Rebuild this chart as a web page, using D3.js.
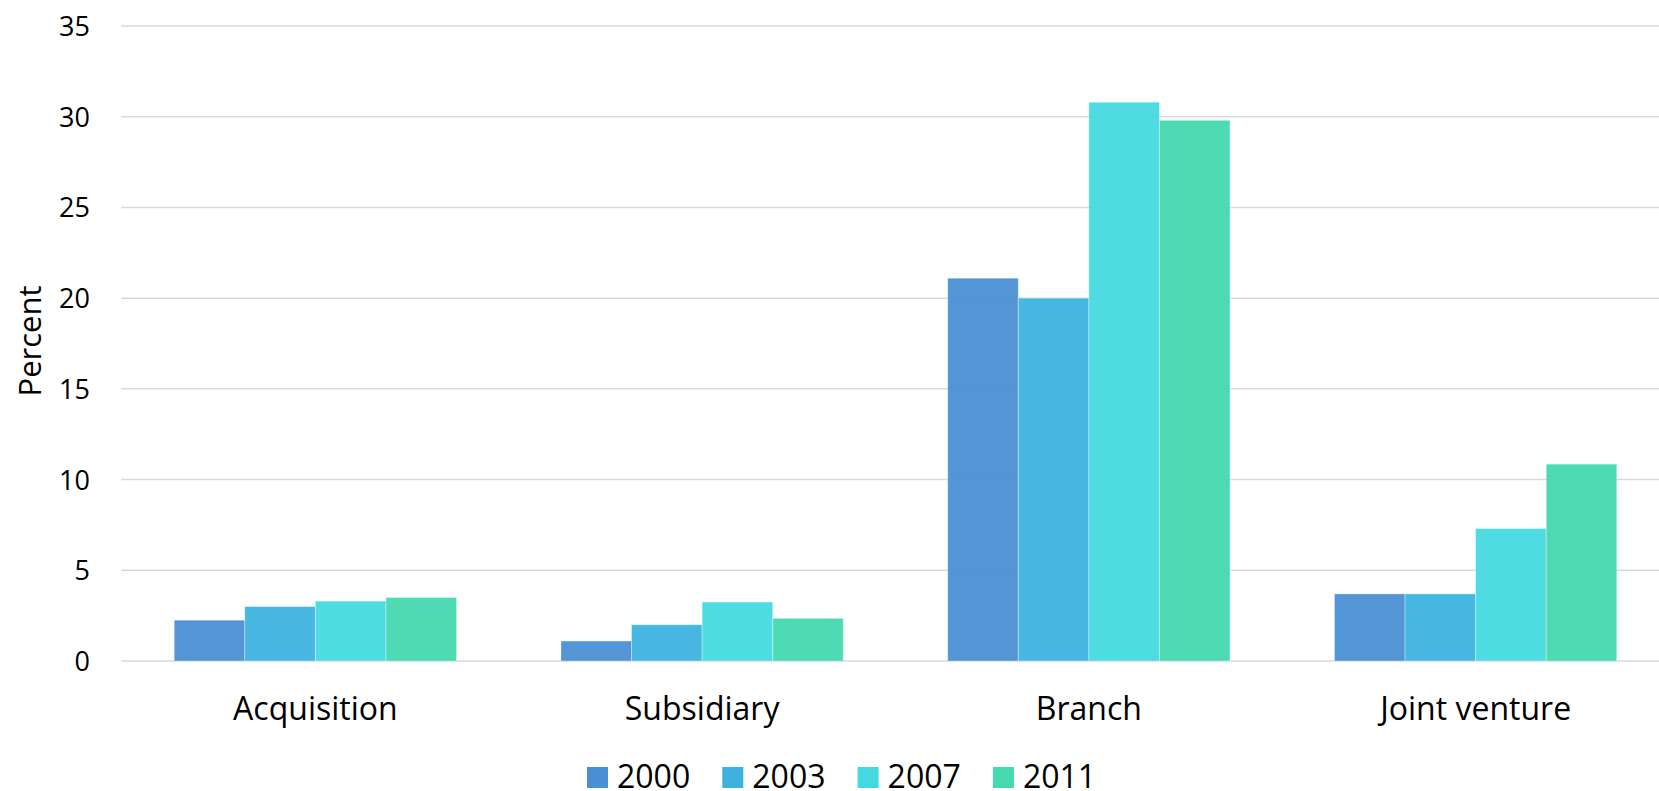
<!DOCTYPE html>
<html>
<head>
<meta charset="utf-8">
<style>
  body { margin: 0; background: #fff; }
  svg { display: block; font-family: "Open Sans", sans-serif; }
</style>
</head>
<body>
<svg id="chart" width="1659" height="791"></svg>
<script src="https://cdn.jsdelivr.net/npm/d3@7"></script>
<script>
// data
var categories = ["Acquisition", "Subsidiary", "Branch", "Joint venture"];
var years = ["2000", "2003", "2007", "2011"];
var v2000 = [2.25, 1.1, 21.1, 3.7];
var v2003 = [3.0, 2.0, 20.0, 3.7];
var v2007 = [3.3, 3.25, 30.8, 7.3];
var v2011 = [3.5, 2.35, 29.8, 10.85];
var yTicks = [0, 5, 10, 15, 20, 25, 30, 35];
var colors = ["#4a8fd3", "#3db2df", "#44d9e0", "#45d9b0"];

var series = [v2000, v2003, v2007, v2011];

var svg = d3.select("#chart");
// plot area runs a bit past the right edge of the picture
var plotLeft = 122, plotRight = 1669, plotTop = 26, plotBottom = 661;

var x0 = d3.scaleBand()
    .domain(categories)
    .range([plotLeft, plotRight])
    .paddingInner(0.27)
    .paddingOuter(0.135);

var x1 = d3.scaleBand()
    .domain(years)
    .range([0, x0.bandwidth()]);

var y = d3.scaleLinear()
    .domain([0, 35])
    .range([plotBottom, plotTop]);

// gridlines
svg.append("g")
  .selectAll("line")
  .data(yTicks)
  .enter().append("line")
    .attr("x1", plotLeft - 1).attr("x2", 1659)
    .attr("y1", function(d) { return y(d); })
    .attr("y2", function(d) { return y(d); })
    .attr("stroke", "#d9d9d9")
    .attr("stroke-width", 1.5);

// y axis labels
var yAxis = d3.axisLeft(y).tickValues(yTicks).tickSize(0).tickPadding(0);
var ya = svg.append("g")
    .attr("transform", "translate(90,0)")
    .call(yAxis);
ya.select(".domain").remove();
ya.selectAll("text")
    .attr("font-family", "Open Sans")
    .attr("font-size", 27)
    .attr("fill", "#000")
    .attr("dy", "0.35em");

// bars
var groups = svg.append("g")
  .selectAll("g")
  .data(categories)
  .enter().append("g")
    .attr("transform", function(d) { return "translate(" + x0(d) + ",0)"; });

groups.selectAll("rect")
  .data(function(d, i) {
    return years.map(function(yr, j) { return { year: yr, value: series[j][i], idx: j }; });
  })
  .enter().append("rect")
    .attr("x", function(d) { return x1(d.year); })
    .attr("y", function(d) { return y(d.value); })
    .attr("width", x1.bandwidth())
    .attr("height", function(d) { return plotBottom - y(d.value); })
    .attr("fill", function(d) { return colors[d.idx]; })
    .attr("fill-opacity", 0.95)
    .attr("stroke", "rgba(255,255,255,0.35)")
    .attr("stroke-width", 1);

// category labels
var xAxis = d3.axisBottom(x0).tickSize(0).tickPadding(0);
var xa = svg.append("g")
    .attr("transform", "translate(0,720)")
    .call(xAxis);
xa.select(".domain").remove();
xa.selectAll("text")
    .attr("font-family", "Open Sans")
    .attr("font-size", 32)
    .attr("fill", "#000")
    .attr("dy", 0);

// y title
svg.append("text")
    .attr("transform", "translate(41,341) rotate(-90)")
    .attr("text-anchor", "middle")
    .attr("font-size", 31)
    .attr("fill", "#000")
    .text("Percent");

// legend
var legend = svg.append("g")
  .selectAll("g")
  .data(years)
  .enter().append("g")
    .attr("transform", function(d, i) { return "translate(" + (587 + i * 135.3) + ",767)"; });

legend.append("rect")
    .attr("width", 21).attr("height", 21)
    .attr("fill", function(d, i) { return colors[i]; });

legend.append("text")
    .attr("x", 30).attr("y", 21)
    .attr("font-size", 32)
    .attr("fill", "#000")
    .text(function(d) { return d; });
</script>
</body>
</html>
